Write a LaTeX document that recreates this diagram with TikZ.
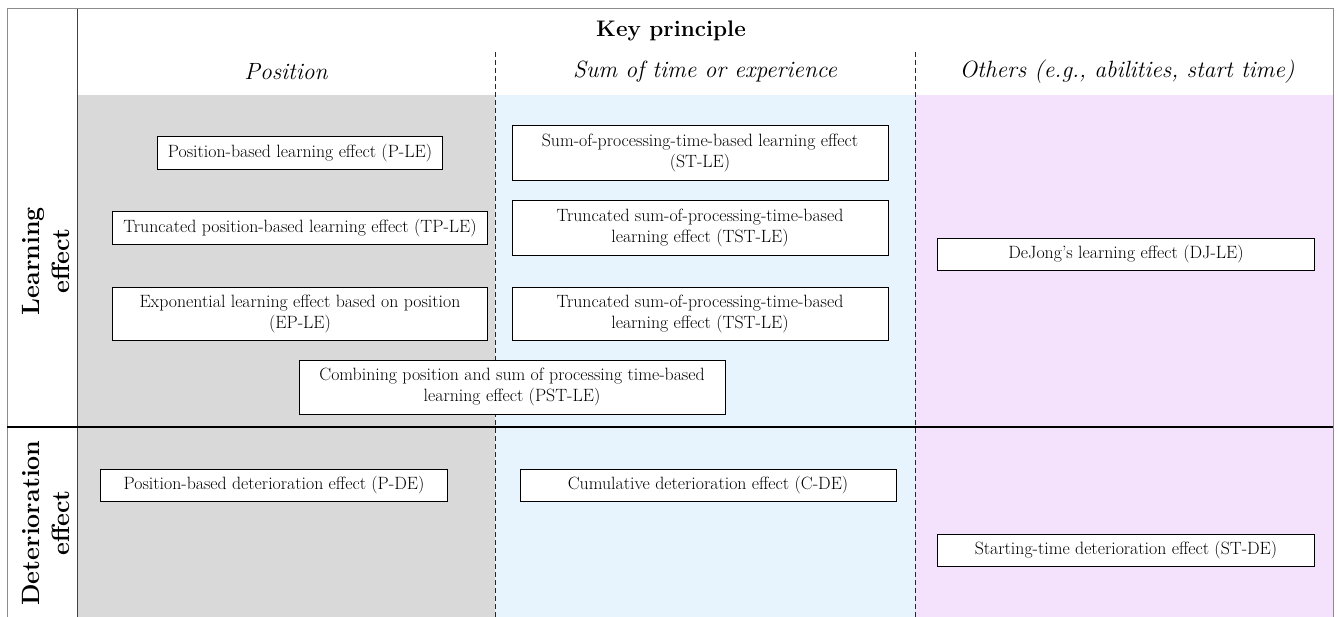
\documentclass[tikz,border=0pt]{standalone}
\usepackage{tikz}
\definecolor{colgray}{RGB}{217,217,217}
\definecolor{colblue}{RGB}{232,244,253}
\definecolor{colpink}{RGB}{244,226,252}
\definecolor{framegray}{RGB}{140,140,140}
\begin{document}
\begin{tikzpicture}[x=1pt,y=-1pt,
  ebox/.style={draw=black,fill=white,line width=0.9pt,align=center,inner sep=0pt,
    font=\fontsize{17.8}{20.5}\selectfont},
  sidelbl/.style={rotate=90,align=center,font=\fontsize{25}{30}\selectfont\bfseries},
  subhead/.style={font=\fontsize{23.5}{28}\selectfont\itshape},
  sepdash/.style={line width=0.9pt,dash pattern=on 5pt off 3pt,black!85}]
\useasboundingbox (0,0) rectangle (1338,617);
\fill[white] (0,0) rectangle (1338,617);
% column fills
\fill[colgray] (77,95) rectangle (495,617);
\fill[colblue] (495,95) rectangle (915,617);
\fill[colpink] (915,95) rectangle (1333,617);
% frame
\draw[framegray,line width=1pt] (7,617) -- (7,9) -- (1333,9) -- (1333,617);
\draw[black!75,line width=0.8pt] (77,9) -- (77,617);
% separator
\coordinate (sepL) at (7,427);
\coordinate (sepR) at (1333,427);
\draw[black,line width=1.8pt] (sepL) -- (sepR);
% dashed dividers
\coordinate (d1t) at (495,52);
\coordinate (d1b) at (495,617);
\coordinate (d2t) at (915,52);
\coordinate (d2b) at (915,617);
\draw[sepdash] (d1t) -- (d1b);
\draw[sepdash] (d2t) -- (d2b);
% headers
\node[font=\fontsize{22.5}{27}\selectfont\bfseries] (kp) at (671,31) {Key principle};
\node[subhead] (hpos) at (286,72) {Position};
\node[subhead] (hsum) at (705,72) {Sum of time or experience};
\node[subhead] (hoth) at (1127,72) {Others (e.g., abilities, start time)};
% side labels
\node[sidelbl] (lle) at (46,261) {Learning\\effect};
\node[sidelbl] (lde) at (46,523) {Deterioration\\effect};
% learning effect boxes
\node[ebox,minimum width=285pt,minimum height=33pt] (ple) at (300,153) {Position-based learning effect (P-LE)};
\node[ebox,minimum width=375pt,minimum height=33pt] (tple) at (300,228) {Truncated position-based learning effect (TP-LE)};
\node[ebox,minimum width=375pt,minimum height=53pt] (eple) at (300,314) {Exponential learning effect based on position\\(EP-LE)};
\node[ebox,minimum width=426pt,minimum height=54pt] (pstle) at (512,387) {Combining position and sum of processing time-based\\learning effect (PST-LE)};
\node[ebox,minimum width=376pt,minimum height=55pt] (stle) at (700,153) {Sum-of-processing-time-based learning effect\\(ST-LE)};
\node[ebox,minimum width=376pt,minimum height=55pt] (tstle) at (700,228) {Truncated sum-of-processing-time-based\\learning effect (TST-LE)};
\node[ebox,minimum width=376pt,minimum height=53pt] (tstle2) at (700,314) {Truncated sum-of-processing-time-based\\learning effect (TST-LE)};
\node[ebox,minimum width=377pt,minimum height=32pt] (djle) at (1126,254) {DeJong's learning effect (DJ-LE)};
% deterioration boxes
\node[ebox,minimum width=347pt,minimum height=32pt] (pde) at (274,485) {Position-based deterioration effect (P-DE)};
\node[ebox,minimum width=376pt,minimum height=32pt] (cde) at (708,485) {Cumulative deterioration effect (C-DE)};
\node[ebox,minimum width=377pt,minimum height=32pt] (stde) at (1126,550) {Starting-time deterioration effect (ST-DE)};
\end{tikzpicture}
\end{document}
